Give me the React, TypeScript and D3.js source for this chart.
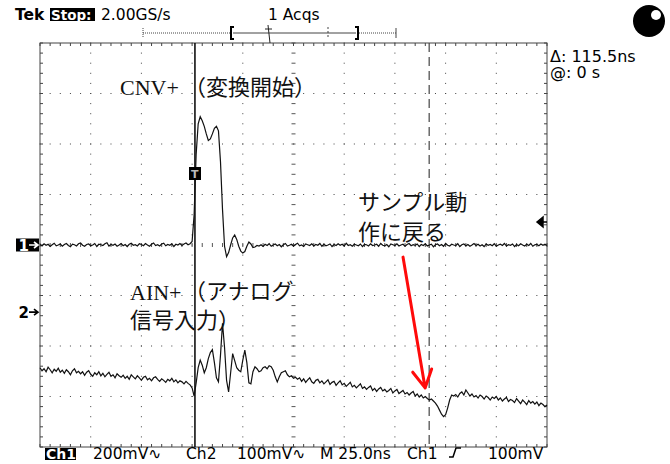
import { useRef, useEffect } from "react";
import * as d3 from "d3";

// screen geometry of the Tek display
const W = 670;
const H = 464;
const plot = { left: 40, right: 547, top: 43, bottom: 447 };

// horizontal: 25 ns/div, 10 div, samples every 1 ns
const nsPerDiv = 25;
const sampleNs = 1;
const ch1MvPerDiv = 200;
const ch2MvPerDiv = 100;
const ch2PosDiv = -1.33; // ch2 ground marker below centre
const cursorNs = [76.4, 191.9]; // Δ 115.5 ns

// CNV+ (ch1), mV, t = 0..250 ns
const ch1Mv = [
  2, -4, 5, -1, 3, -6, 1, 7, -3, 0,
  4, -5, 2, 6, -2, -7, 3, 1, -4, 5,
  8, -1, -5, 2, 4, -3, 0, 6, -6, 3,
  1, -2, 5, 9, -4, 2, -1, 4, -5, 0,
  6, -3, 2, -6, 3, 7, -1, 1, -4, 5,
  2, -3, 6, 0, -5, 3, 8, -2, 1, -4,
  4, 7, -3, 2, -1, 5, -6, 3, 0, 6,
  -2, 4, 8, 1, 5, 14,
  120, 360, 480, 508, 492, 470, 440, 414, 420, 440,
  462, 470, 452, 330, 140, -5, -46, -30, 0, 28,
  40, 22, -5, -24, -32, -26, -5, 12, 4, -10,
  -8, -2,
  -4, 1, -6, 3, -2, 5, -5, 0, 4, -3,
  2, -7, 1, 6, -4, -1, 3, -5, 2, 7,
  -3, 0, -6, 4, 1, -2, 5, -4, 2, -1,
  6, -5, 3, -3, 0, 4, -6, 2, -2, 5,
  -1, 3, -4, 7, -2, 1, -5, 3, 0, -3,
  4, -6, 2, 1, -4, 5, -2, 0, 3, -5,
  6, -1, -3, 2, -7, 4, 1, -2, 5, -4,
  0, 3, -5, 2, 6, -3, 1, -1, 4, -6,
  2, -2, 5, -4, 0, 3, -7, 1, 4, -3,
  2, -5, 6, -1, -4, 3, 0, -2, 5, -6,
  1, 4, -3, 2, -5, 0, 6, -2, 3, -4,
  1, -6, 4, -1, 2, -3, 5, -5, 0, 3,
  -2, 6, -4, 1, -1, 4, -6, 2, -3, 5,
  0, -4, 3, -2, 6, -5, 1, 2, -3, 4,
  -1, 3, -2,
];

// AIN+ (ch2), mV, t = 0..250 ns
const ch2Mv = [
  -110, -116, -112, -118, -109, -114, -120, -113, -117, -111,
  -119, -115, -121, -114, -118, -124, -116, -112, -120, -117,
  -122, -118, -125, -119, -116, -123, -127, -120, -124, -118,
  -126, -121, -128, -123, -119, -127, -124, -130, -122, -126,
  -129, -125, -131, -127, -133, -124, -128, -132, -126, -130,
  -135, -129, -127, -134, -131, -136, -130, -128, -133, -137,
  -132, -135, -139, -133, -136, -131, -138, -134, -140, -136,
  -138, -142, -137, -141,
  -144, -150, -166, -140, -110, -95, -105, -120, -110, -92,
  -80, -74, -100, -130, -138, -85, -22, -70, -135, -158,
  -120, -82, -96, -110, -115, -118, -95, -75, -100, -140,
  -142, -118, -108, -112, -118, -116, -110, -108, -112, -106,
  -108, -115, -128, -138, -128, -120, -118, -116, -124, -128,
  -126, -131, -129, -133, -130,
  -137, -132, -139, -134, -130, -138, -141, -135, -133, -140,
  -136, -142, -138, -134, -143, -139, -137, -145, -140, -136,
  -144, -141, -147, -143, -139, -148, -145, -150, -146, -142,
  -151, -148, -153, -149, -146, -155, -151, -157, -152, -149,
  -156, -153, -158, -155, -151, -160, -156, -153, -161, -158,
  -155, -162, -159, -164, -160, -157, -166, -162, -168, -164,
  -170, -167, -171,
  -174, -172, -176, -180, -186, -194, -202, -207, -203, -190, -174, -164,
  -166, -163, -168, -161, -158, -164, -154, -160, -166, -162,
  -168, -165, -170, -164, -167, -172, -166, -169, -174, -168,
  -171, -167, -174, -170, -176, -172, -169, -177, -173, -175,
  -179, -171, -176, -181, -174, -178, -183, -175, -180, -177,
  -182, -178, -185, -180, -183, -187, -184,
];

// red annotation arrow, in ns / ch2 mV
const arrowFrom = [179, 109];
const arrowTo = [189.9, -150];

const uiFont = "DejaVu Sans";
const jpFont = "Noto Sans CJK JP";
const serifFont = "Liberation Serif";
const uiSize = 15.5;

export default function App() {
  const svgRef = useRef<SVGSVGElement>(null);

  useEffect(() => {
    if (!svgRef.current) return;
    const svg = d3.select(svgRef.current);
    svg.selectAll("*").remove();

    const x = d3
      .scaleLinear()
      .domain([0, nsPerDiv * 10])
      .range([plot.left, plot.right]);
    const y1 = d3
      .scaleLinear()
      .domain([-4 * ch1MvPerDiv, 4 * ch1MvPerDiv])
      .range([plot.bottom, plot.top]);
    const y2 = d3
      .scaleLinear()
      .domain([(-4 - ch2PosDiv) * ch2MvPerDiv, (4 - ch2PosDiv) * ch2MvPerDiv])
      .range([plot.bottom, plot.top]);

    svg.append("rect").attr("width", W).attr("height", H).attr("fill", "#fff");

    const grid = svg.append("g");
    const minorX = d3.range(0, 250.01, nsPerDiv / 5);
    const minorY = d3.range(-800, 800.01, ch1MvPerDiv / 5);
    const divX = d3.range(1, 10).map((k) => k * nsPerDiv);
    const divY = d3.range(-3, 4).map((k) => k * ch1MvPerDiv);

    // dotted division lines
    divX.filter((t) => t !== 125).forEach((t) => {
      minorY.forEach((v) => {
        grid.append("rect")
          .attr("x", x(t) - 0.5).attr("y", y1(v) - 0.5)
          .attr("width", 1).attr("height", 1).attr("fill", "#444");
      });
    });
    divY.filter((v) => v !== 0).forEach((v) => {
      minorX.forEach((t) => {
        grid.append("rect")
          .attr("x", x(t) - 0.5).attr("y", y1(v) - 0.5)
          .attr("width", 1).attr("height", 1).attr("fill", "#444");
      });
    });

    // centre crosshair with minor ticks
    minorY.forEach((v) => {
      grid.append("line")
        .attr("x1", x(125) - 2).attr("x2", x(125) + 2)
        .attr("y1", y1(v)).attr("y2", y1(v))
        .attr("stroke", "#555").attr("stroke-width", 1);
    });
    minorX.forEach((t) => {
      grid.append("line")
        .attr("x1", x(t)).attr("x2", x(t))
        .attr("y1", y1(0) - 2).attr("y2", y1(0) + 2)
        .attr("stroke", "#555").attr("stroke-width", 1);
    });

    // frame + edge ticks
    grid.append("rect")
      .attr("x", plot.left).attr("y", plot.top)
      .attr("width", plot.right - plot.left).attr("height", plot.bottom - plot.top)
      .attr("fill", "none").attr("stroke", "#444").attr("stroke-width", 1);
    minorX.forEach((t) => {
      grid.append("line").attr("x1", x(t)).attr("x2", x(t))
        .attr("y1", plot.top).attr("y2", plot.top + 3)
        .attr("stroke", "#444");
      grid.append("line").attr("x1", x(t)).attr("x2", x(t))
        .attr("y1", plot.bottom).attr("y2", plot.bottom - 3)
        .attr("stroke", "#444");
    });
    minorY.forEach((v) => {
      grid.append("line").attr("x1", plot.left).attr("x2", plot.left + 3)
        .attr("y1", y1(v)).attr("y2", y1(v)).attr("stroke", "#444");
      grid.append("line").attr("x1", plot.right).attr("x2", plot.right - 3)
        .attr("y1", y1(v)).attr("y2", y1(v)).attr("stroke", "#444");
    });

    // cursors
    svg.append("line")
      .attr("x1", x(cursorNs[0])).attr("x2", x(cursorNs[0]))
      .attr("y1", plot.top).attr("y2", plot.bottom)
      .attr("stroke", "#111").attr("stroke-width", 1.6);
    svg.append("line")
      .attr("x1", x(cursorNs[1])).attr("x2", x(cursorNs[1]))
      .attr("y1", plot.top).attr("y2", plot.bottom)
      .attr("stroke", "#444").attr("stroke-width", 1.2)
      .attr("stroke-dasharray", "9,5");

    // traces
    const line1 = d3.line<number>()
      .x((_, i) => x(i * sampleNs))
      .y((d) => y1(d));
    const line2 = d3.line<number>()
      .x((_, i) => x(i * sampleNs))
      .y((d) => y2(d));
    svg.append("path").attr("d", line1(ch1Mv))
      .attr("fill", "none").attr("stroke", "#111").attr("stroke-width", 1.2);
    svg.append("path").attr("d", line2(ch2Mv))
      .attr("fill", "none").attr("stroke", "#111").attr("stroke-width", 1.2);

    const text = (
      px: number, py: number, s: string, size = uiSize,
      font = uiFont, fill = "#000", weight = "normal",
    ) =>
      svg.append("text")
        .attr("x", px).attr("y", py)
        .attr("font-family", font).attr("font-size", size)
        .attr("font-weight", weight).attr("fill", fill)
        .text(s);

    // header
    text(15, 20, "Tek", uiSize, uiFont, "#000", "bold");
    svg.append("rect").attr("x", 50).attr("y", 8).attr("width", 45).attr("height", 13).attr("fill", "#000");
    text(51, 19.5, "Stop:", 13.5, uiFont, "#fff", "bold");
    text(101, 20, "2.00GS/s");
    text(268, 20, "1 Acqs");

    // record view bar
    const rb = svg.append("g").attr("stroke", "#444").attr("fill", "none");
    rb.append("line").attr("x1", 143).attr("x2", 143).attr("y1", 28).attr("y2", 38).attr("stroke-dasharray", "1,1");
    rb.append("line").attr("x1", 143).attr("x2", 230).attr("y1", 33).attr("y2", 33).attr("stroke-dasharray", "1,1");
    rb.append("line").attr("x1", 233).attr("x2", 356).attr("y1", 33).attr("y2", 33);
    rb.append("line").attr("x1", 359).attr("x2", 396).attr("y1", 33).attr("y2", 33).attr("stroke-dasharray", "1,1");
    rb.append("line").attr("x1", 396).attr("x2", 396).attr("y1", 28).attr("y2", 38);
    rb.append("line").attr("x1", 328).attr("x2", 328).attr("y1", 27).attr("y2", 39).attr("stroke-dasharray", "2,2");
    rb.append("path").attr("d", "M234,27 H231 V39 H234").attr("stroke", "#000").attr("stroke-width", 2);
    rb.append("path").attr("d", "M355,27 H358 V39 H355").attr("stroke", "#000").attr("stroke-width", 2);
    rb.append("line").attr("x1", 268).attr("x2", 270).attr("y1", 25).attr("y2", 43).attr("stroke", "#222");
    rb.append("line").attr("x1", 265).attr("x2", 272).attr("y1", 29).attr("y2", 29).attr("stroke", "#222");

    // run indicator
    svg.append("circle").attr("cx", 649).attr("cy", 21).attr("r", 16).attr("fill", "#000");
    svg.append("circle").attr("cx", 656).attr("cy", 15).attr("r", 5).attr("fill", "#fff");

    // cursor readout
    text(550, 61.5, "Δ: 115.5ns", 16);
    text(550, 78, "@: 0 s", 16);

    // channel markers: digit + arrow
    const marker = (ly: number, digit: string, inverse: boolean) => {
      const fg = inverse ? "#fff" : "#000";
      if (inverse) {
        svg.append("rect").attr("x", 16).attr("y", ly - 6.5)
          .attr("width", 23).attr("height", 13).attr("fill", "#000");
      }
      text(18.5, ly + 5.5, digit, 15, uiFont, fg, "bold");
      svg.append("path")
        .attr("d", `M29,${ly} H37 M34,${ly - 3} L38,${ly} L34,${ly + 3}`)
        .attr("fill", "none").attr("stroke", fg).attr("stroke-width", 1.6);
    };
    marker(y1(0), "1", true);
    marker(y2(0), "2", false);

    svg.append("rect").attr("x", 189).attr("y", 167).attr("width", 12).attr("height", 13).attr("fill", "#000");
    text(191, 178, "T", 11, uiFont, "#bbb", "bold");
    svg.append("path").attr("d", "M537,222 L543,217 L543,227 Z M543,222 H547")
      .attr("fill", "#000").attr("stroke", "#000").attr("stroke-width", 1.5);

    // footer
    svg.append("rect").attr("x", 45).attr("y", 448).attr("width", 31).attr("height", 12).attr("fill", "#000");
    text(46, 458.5, "Ch1", 14, uiFont, "#fff", "bold");
    text(93, 458.5, "200mV∿");
    text(186, 458.5, "Ch2");
    text(237, 458.5, "100mV∿");
    text(320, 458.5, "M 25.0ns");
    text(407, 458.5, "Ch1");
    svg.append("path").attr("d", "M449,457 H453 L456,448 H461")
      .attr("fill", "none").attr("stroke", "#000").attr("stroke-width", 1.5);
    text(488, 458.5, "100mV");

    // annotations
    text(120, 95, "CNV+", 22, serifFont, "#111");
    text(184, 95, "（変換開始）", 22, jpFont, "#111");
    text(130, 299.5, "AIN+", 22, serifFont, "#111");
    text(184, 299, "（アナログ", 22, jpFont, "#111");
    text(130, 328, "信号入力）", 22, jpFont, "#111");
    text(358, 210, "サンプル動", 22, jpFont, "#111");
    text(358, 240, "作に戻る", 22, jpFont, "#111");

    // red arrow
    const ax0 = x(arrowFrom[0]), ay0 = y2(arrowFrom[1]);
    const ax1 = x(arrowTo[0]), ay1 = y2(arrowTo[1]);
    const ang = Math.atan2(ay1 - ay0, ax1 - ax0);
    const head = 20;
    const spread = 0.5;
    svg.append("path")
      .attr("d",
        `M${ax0},${ay0} L${ax1},${ay1} ` +
        `M${ax1 - head * Math.cos(ang - spread)},${ay1 - head * Math.sin(ang - spread)} ` +
        `L${ax1},${ay1} L${ax1 - head * Math.cos(ang + spread)},${ay1 - head * Math.sin(ang + spread)}`)
      .attr("fill", "none").attr("stroke", "#ff0a0a").attr("stroke-width", 3)
      .attr("stroke-linecap", "round").attr("stroke-linejoin", "round");
  }, []);

  return (
    <svg
      ref={svgRef}
      width={W}
      height={H}
      style={{ position: "absolute", left: 0, top: 0, display: "block" }}
    />
  );
}
